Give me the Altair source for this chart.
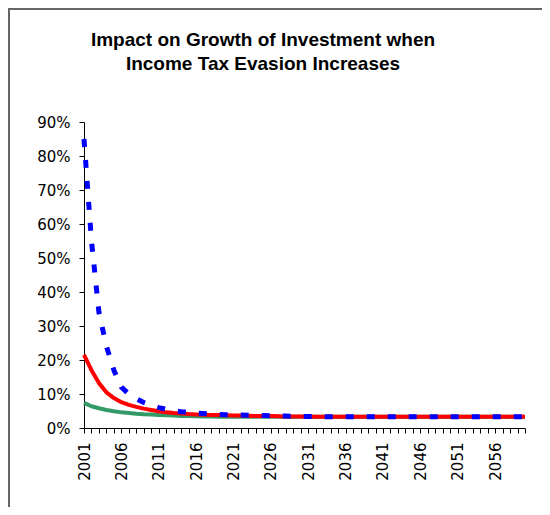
import altair as alt
import pandas as pd

years = list(range(2001, 2061))

blue = [85, 55, 34, 24, 17, 12, 10, 8.6, 7.5, 6.7,
        6.0, 5.5, 5.1, 4.8, 4.6, 4.4, 4.25, 4.1, 4.0, 3.9,
        3.85, 3.8, 3.75, 3.7, 3.65, 3.6, 3.55, 3.5, 3.45, 3.4,
        3.4, 3.35, 3.35, 3.3, 3.3, 3.3, 3.3, 3.3, 3.3, 3.3,
        3.3, 3.3, 3.3, 3.3, 3.3, 3.3, 3.3, 3.3, 3.3, 3.3,
        3.3, 3.3, 3.3, 3.3, 3.3, 3.3, 3.3, 3.3, 3.3, 3.3]

red = [21.5, 17, 13.2, 10.5, 8.8, 7.6, 6.8, 6.2, 5.7, 5.3,
       4.9, 4.6, 4.4, 4.25, 4.1, 4.0, 3.9, 3.85, 3.8, 3.75,
       3.7, 3.65, 3.6, 3.55, 3.5, 3.5, 3.45, 3.4, 3.4, 3.35,
       3.35, 3.3, 3.3, 3.3, 3.3, 3.3, 3.3, 3.3, 3.3, 3.3,
       3.3, 3.3, 3.3, 3.3, 3.3, 3.3, 3.3, 3.3, 3.3, 3.3,
       3.3, 3.3, 3.3, 3.3, 3.3, 3.3, 3.3, 3.3, 3.3, 3.3]

green = [7.4, 6.4, 5.8, 5.3, 4.9, 4.6, 4.4, 4.2, 4.05, 3.95,
         3.85, 3.75, 3.65, 3.55, 3.5, 3.45, 3.4, 3.35, 3.3, 3.3,
         3.3, 3.3, 3.3, 3.3, 3.3, 3.3, 3.3, 3.3, 3.3, 3.3,
         3.3, 3.3, 3.3, 3.3, 3.3, 3.3, 3.3, 3.3, 3.3, 3.3,
         3.3, 3.3, 3.3, 3.3, 3.3, 3.3, 3.3, 3.3, 3.3, 3.3,
         3.3, 3.3, 3.3, 3.3, 3.3, 3.3, 3.3, 3.3, 3.3, 3.3]

title_lines = ["Impact on Growth of Investment when", "Income Tax Evasion Increases"]

series_names = ["Green", "Red", "Blue"]
series_colors = ["#339966", "#FF0000", "#0000FF"]

rows = []
for name, vals in zip(series_names, [green, red, blue]):
    for yr, v in zip(years, vals):
        rows.append({"year": yr, "value": v, "series": name})
df = pd.DataFrame(rows)

LEFT, TOP, W, H = 76, 114, 441, 306
TOTAL_W, TOTAL_H = 534, 499

x_enc = alt.X("year:Q", scale=alt.Scale(domain=[2001, 2060], nice=False, zero=False),
              axis=alt.Axis(values=years, title=None, grid=False,
                            labelExpr="(datum.value - 2001) % 5 == 0 ? datum.value : ''",
                            labelAngle=-90, labelAlign="right", labelBaseline="middle",
                            tickSize=5, labelPadding=9, labelFont="DejaVu Sans",
                            labelFontSize=15, labelColor="black", domainColor="black",
                            tickColor="black", labelOverlap=False, labelFlush=False))
y_enc = alt.Y("value:Q", scale=alt.Scale(domain=[0, 90], nice=False),
              axis=alt.Axis(values=list(range(0, 91, 10)), title=None, grid=False,
                            labelExpr="datum.value + '%'", tickSize=5, labelPadding=9,
                            labelFont="DejaVu Sans", labelFontSize=15, labelColor="black",
                            domainColor="black", tickColor="black"))

def line(name, color, width, dash=None):
    kw = dict(color=color, strokeWidth=width, strokeCap="butt", strokeJoin="round")
    if dash:
        kw["strokeDash"] = dash
    return alt.Chart(df).transform_filter(alt.datum.series == name).mark_line(**kw).encode(x=x_enc, y=y_enc)

frame_df = pd.DataFrame({"a": [0]})
top_border = alt.Chart(frame_df).mark_rule(color="#666666", strokeWidth=2).encode(
    x=alt.value(-LEFT), x2=alt.value(TOTAL_W - LEFT), y=alt.value(-TOP + 1))
left_border = alt.Chart(frame_df).mark_rule(color="#666666", strokeWidth=2).encode(
    x=alt.value(-LEFT + 1), y=alt.value(-TOP), y2=alt.value(TOTAL_H - TOP))

title_layers = []
for i, t in enumerate(title_lines):
    title_layers.append(
        alt.Chart(frame_df).mark_text(font="Liberation Sans", fontSize=19, fontWeight="bold",
                                      color="black", align="center", baseline="alphabetic").encode(
            x=alt.value(255 - LEFT), y=alt.value([38, 61.5][i] - TOP), text=alt.value(t))
    )

chart = alt.layer(
    line("Green", series_colors[0], 4),
    line("Red", series_colors[1], 4),
    line("Blue", series_colors[2], 5, [8, 13]),
    top_border,
    left_border,
    *title_layers,
).properties(
    width=W, height=H,
    background="white",
    autosize=alt.AutoSizeParams(type="none"),
    padding={"left": LEFT, "top": TOP, "right": TOTAL_W - LEFT - W, "bottom": TOTAL_H - TOP - H},
).configure_view(stroke=None)

chart.save("out.html", embed_options={"renderer": "svg", "actions": False})
